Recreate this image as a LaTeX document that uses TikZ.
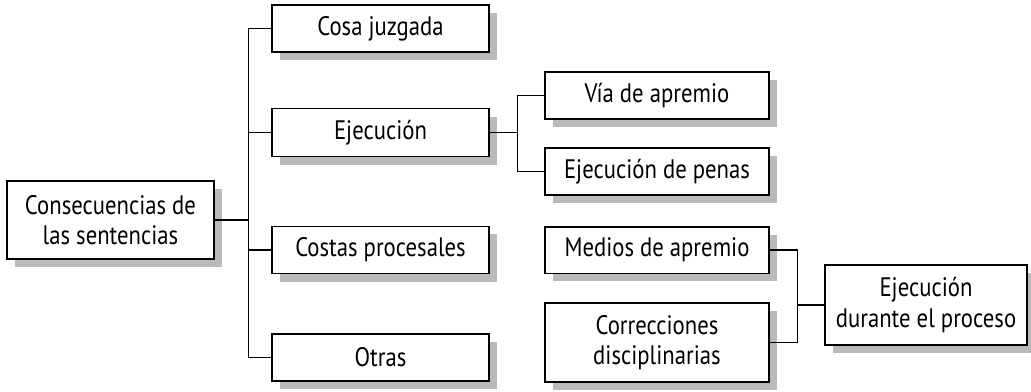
\documentclass[tikz,border=0pt]{standalone}
\usepackage{fontspec}
\setmainfont{PT Sans}[FakeStretch=0.85]
\usetikzlibrary{shadows}
\begin{document}
\begin{tikzpicture}[x=0.025cm, y=-0.025cm,
    box/.style={draw, line width=1pt, fill=white, align=center, inner sep=0pt,
        font=\fontsize{19}{21.5}\selectfont,
        drop shadow={shadow xshift=0.2cm, shadow yshift=-0.2cm, fill=black!27, opacity=1}},
    link/.style={line width=0.9pt}]
            \useasboundingbox (0,0) rectangle (1031,391);
            \node[box, minimum width=5.17cm, minimum height=1.95cm] (root) at (110.5, 220) {Consecuencias de\\las sentencias};
            \node[box, minimum width=5.42cm, minimum height=1.18cm] (cosa) at (380.5, 28.5) {Cosa juzgada};
            \node[box, minimum width=5.42cm, minimum height=1.2cm] (ejec) at (380.5, 132.5) {Ejecución};
            \node[box, minimum width=5.42cm, minimum height=1.18cm] (costas) at (380.5, 250) {Costas procesales};
            \node[box, minimum width=5.42cm, minimum height=1.18cm] (otras) at (380.5, 357.5) {Otras};
            \node[box, minimum width=5.6cm, minimum height=1.18cm] (via) at (657, 95.5) {Vía de apremio};
            \node[box, minimum width=5.6cm, minimum height=1.18cm] (penas) at (657, 171.5) {Ejecución de penas};
            \node[box, minimum width=5.6cm, minimum height=1.16cm] (medios) at (657, 250) {Medios de apremio};
            \node[box, minimum width=5.6cm, minimum height=1.98cm] (correc) at (657, 342.5) {Correcciones\\disciplinarias};
            \node[box, minimum width=5.05cm, minimum height=2cm] (durante) at (926, 305) {Ejecución\\durante el proceso};
            \draw[link] (root.east) -- ++(34,0) coordinate (t1);
            \draw[link] (cosa.west) -| (t1) |- (otras.west);
            \draw[link] (ejec.west) -- (ejec.west -| t1);
            \draw[link] (costas.west) -- (costas.west -| t1);
            \draw[link] (ejec.east) -- ++(28,0) coordinate (t2);
            \draw[link] (via.west) -| (t2) |- (penas.west);
            \draw[link] (medios.east) -- ++(28,0) coordinate (t3);
            \draw[link] (t3) |- (correc.east);
            \draw[link] (durante.west) -- (durante.west -| t3);
        \end{tikzpicture}
\end{document}
